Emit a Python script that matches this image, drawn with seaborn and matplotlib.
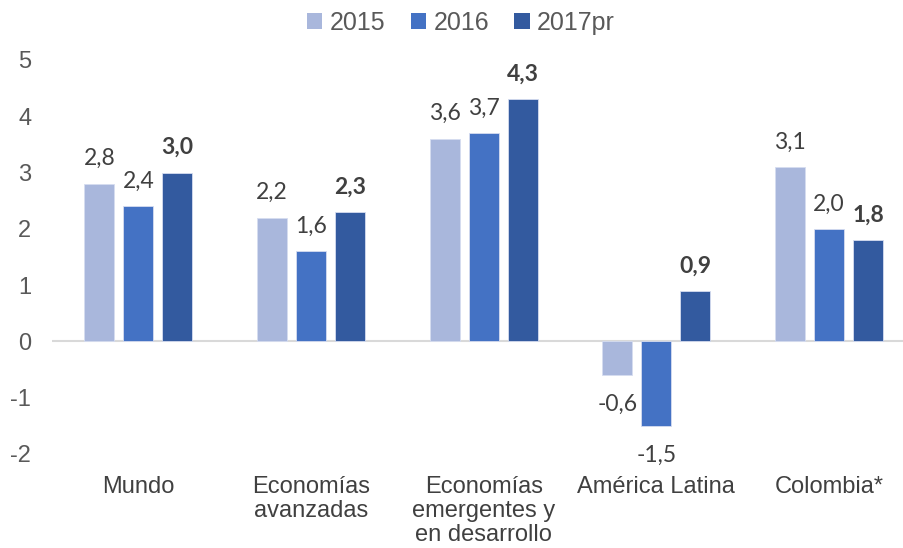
import matplotlib
matplotlib.use("Agg")
import matplotlib.pyplot as plt
import seaborn as sns
import pandas as pd
from matplotlib.patches import Patch

categories = ["Mundo", "Economías\navanzadas", "Economías\nemergentes y\nen desarrollo", "América Latina", "Colombia*"]
series = ["2015", "2016", "2017pr"]
v2015 = [2.8, 2.2, 3.6, -0.6, 3.1]
v2016 = [2.4, 1.6, 3.7, -1.5, 2.0]
v2017 = [3.0, 2.3, 4.3, 0.9, 1.8]
yticks = [-2, -1, 0, 1, 2, 3, 4, 5]

colors = ["#A9B7DC", "#4472C4", "#335A9F"]

rows = []
for s, vals in zip(series, [v2015, v2016, v2017]):
    for c, v in zip(categories, vals):
        rows.append({"cat": c, "serie": s, "val": v})
df = pd.DataFrame(rows)

sns.set_theme(style="white")
plt.rcParams["font.family"] = ["Liberation Sans", "DejaVu Sans"]

fig = plt.figure(figsize=(9.04, 5.48), dpi=100)
ax = fig.add_axes([52/904, 1-454/548, 1-52/904, (454-60)/548])

sns.barplot(data=df, x="cat", y="val", hue="serie", order=categories, hue_order=series,
            palette=colors, saturation=1, width=0.678, gap=0.23, ax=ax, legend=False,
            edgecolor="#D6DDF0", linewidth=0.6)

ax.set_ylim(-2, 5)
ax.set_xlim(-0.5, 4.434)
ax.set_yticks(yticks)
ax.set_yticklabels([str(t) for t in yticks], fontsize=17, color="#595959")
ax.tick_params(axis="y", length=0, pad=15)
ax.tick_params(axis="x", length=0, pad=16)
ax.set_xticks(range(len(categories)))
ax.set_xticklabels(categories, fontsize=17, color="#404040", linespacing=1.12, va="top")
ax.set_xlabel("")
ax.set_ylabel("")
for sp in ax.spines.values():
    sp.set_visible(False)
ax.axhline(0, color="#D9D9D9", lw=1.5, zorder=0)

label_font = ["Lato", "DejaVu Sans"]
for i, cont in enumerate(ax.containers):
    vals = [v2015, v2016, v2017][i]
    for bar, v in zip(cont, vals):
        cx = bar.get_x() + bar.get_width()/2
        txt = f"{v:.1f}".replace(".", ",")
        off = 25 if v >= 0 else -29
        ax.annotate(txt, (cx, v), xytext=(0, off), textcoords="offset pixels",
                    ha="center", va="center", fontsize=16.5, family=label_font,
                    color="#404040", fontweight="bold" if i == 2 else "normal",
                    annotation_clip=False)

handles = [Patch(facecolor=c, edgecolor="none") for c in colors]
fig.legend(handles, series, loc="center", bbox_to_anchor=(0.51, 1-23/548),
           ncol=3, frameon=False, fontsize=18, handlelength=0.62, handleheight=0.62,
           handletextpad=0.3, columnspacing=1.0, labelcolor="#595959")

fig.savefig("out.png", dpi=100)
